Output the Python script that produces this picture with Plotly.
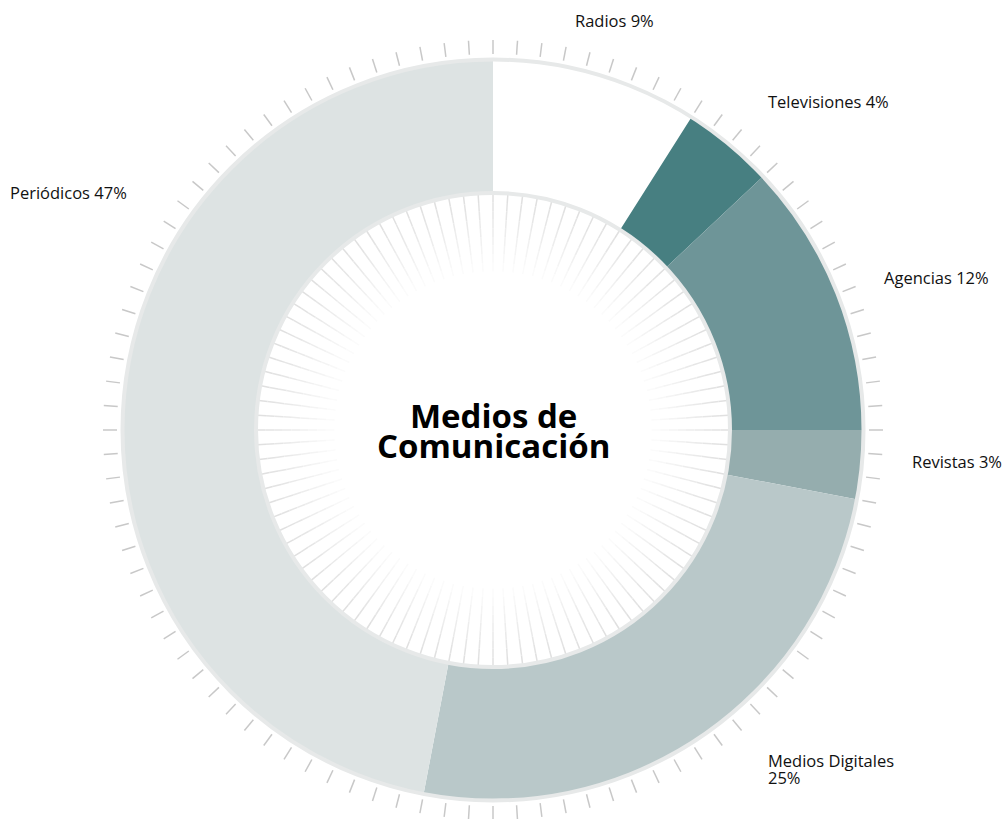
import numpy as np
import plotly.graph_objects as go

# ---- data ----
categories = ["Radios", "Televisiones", "Agencias", "Revistas", "Medios Digitales", "Periódicos"]
shares = [9, 4, 12, 3, 25, 47]
colors = ["#ffffff", "#477f81", "#6e9598", "#95adae", "#b9c8c9", "#dde3e3"]
label_lines = [["Radios 9%"], ["Televisiones 4%"], ["Agencias 12%"], ["Revistas 3%"],
               ["Medios Digitales", "25%"], ["Periódicos 47%"]]
title_lines = ["Medios de", "Comunicación"]

# ---- layout geometry (pixels) ----
W, H = 1006, 819
CX, CY = 493, 430
R_OUT = 370.5
R_PIE = 371
R_IN = 237
FONT = "Open Sans, Noto Sans, sans-serif"

fig = go.Figure()

# outer tick marks (one per percent)
ang = np.deg2rad(np.arange(100) * 3.6)
xs, ys = [], []
for a in ang:
    for r in (376, 390):
        xs.append(CX + r * np.sin(a)); ys.append(CY - r * np.cos(a))
    xs.append(None); ys.append(None)
fig.add_trace(go.Scatter(x=xs, y=ys, mode="lines", line=dict(color="#c8c8c8", width=1.5),
                         hoverinfo="skip", showlegend=False))

# inner fading spokes
nb = 10
r_start, r_end = R_IN - 1, 150
for k in range(nb):
    r0 = r_start - (r_start - r_end) * k / nb
    r1 = r_start - (r_start - r_end) * (k + 1) / nb
    t = k / (nb - 1)
    c = int(224 + (255 - 224) * t)
    xs, ys = [], []
    for a in ang:
        xs += [CX + r0 * np.sin(a), CX + r1 * np.sin(a), None]
        ys += [CY - r0 * np.cos(a), CY - r1 * np.cos(a), None]
    fig.add_trace(go.Scatter(x=xs, y=ys, mode="lines", line=dict(color=f"rgb({c},{c},{c})", width=1.5),
                             hoverinfo="skip", showlegend=False))

# donut
fig.add_trace(go.Pie(
    labels=categories, values=shares, sort=False, direction="clockwise", rotation=0,
    hole=R_IN / R_PIE, marker=dict(colors=colors, line=dict(width=0)),
    textinfo="none", hoverinfo="label+percent", showlegend=False,
    domain=dict(x=[(CX - R_PIE) / W, (CX + R_PIE) / W],
                y=[(H - CY - R_PIE) / H, (H - CY + R_PIE) / H]),
))

shapes = []
for r in (R_OUT, R_IN):
    shapes.append(dict(type="circle", xref="x", yref="y", x0=CX - r, x1=CX + r, y0=CY - r, y1=CY + r,
                       line=dict(color="#e7e9e9", width=4), fillcolor="rgba(0,0,0,0)", layer="above"))

# labels (base font sets the line spacing, the span sets glyph size)
LBL = 16.5
label_pos = [(573, 20), (766, 101), (882, 277), (910, 461), (766, 769), (8, 192)]
annotations = []
for lines, (x, y) in zip(label_lines, label_pos):
    txt = "<br>".join(f"<span style='font-size:{LBL}px'>{l}</span>" for l in lines)
    annotations.append(dict(x=x, y=y, xref="x", yref="y", text=txt, showarrow=False,
                            xanchor="left", yanchor="middle", align="left",
                            font=dict(family=FONT, size=13, color="#111111")))
TT = 33
title_txt = "<br>".join(f"<span style='font-size:{TT}px'><b>{l}</b></span>" for l in title_lines)
annotations.append(dict(x=CX, y=CY, xref="x", yref="y", text=title_txt,
                        showarrow=False, xanchor="center", yanchor="middle", align="center",
                        font=dict(family=FONT, size=23, color="#000000")))

fig.update_layout(
    width=W, height=H, margin=dict(l=0, r=0, t=0, b=0),
    paper_bgcolor="white", plot_bgcolor="white",
    xaxis=dict(range=[0, W], visible=False, fixedrange=True),
    yaxis=dict(range=[H, 0], visible=False, fixedrange=True),
    shapes=shapes, annotations=annotations, showlegend=False,
)

fig.write_html("out.html")
